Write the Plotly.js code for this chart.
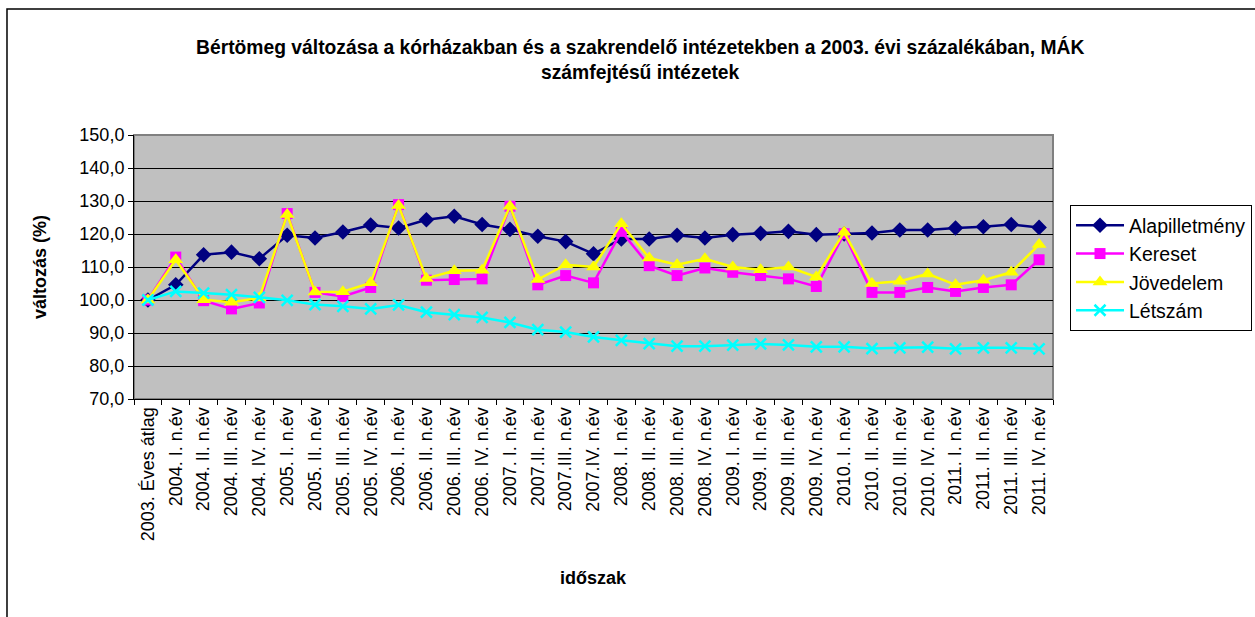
<!DOCTYPE html>
<html>
<head>
<meta charset="utf-8">
<script src="https://cdn.plot.ly/plotly-3.0.1.min.js"></script>
<style>html,body{margin:0;padding:0;background:#fff;}#chart{width:1255px;height:617px;}</style>
</head>
<body>
<div id="chart"></div>
<script>
const categories = ["2003. Éves átlag",
  "2004. I. n.év","2004. II. n.év","2004. III. n.év","2004. IV. n.év",
  "2005. I. n.év","2005. II. n.év","2005. III. n.év","2005. IV. n.év",
  "2006. I. n.év","2006. II. n.év","2006. III. n.év","2006. IV. n.év",
  "2007. I. n.év","2007.II. n.év","2007.III. n.év","2007.IV. n.év",
  "2008. I. n.év","2008. II. n.év","2008. III. n.év","2008. IV. n.év",
  "2009. I. n.év","2009. II. n.év","2009. III. n.év","2009. IV. n.év",
  "2010. I. n.év","2010. II. n.év","2010. III. n.év","2010. IV. n.év",
  "2011. I. n.év","2011. II. n.év","2011. III. n.év","2011. IV. n.év"];
const alapilletmeny = [100.0,104.6,113.7,114.5,112.5,119.6,118.8,120.6,122.7,121.8,124.3,125.4,122.9,121.4,119.3,117.7,114.0,118.5,118.5,119.6,118.8,119.8,120.2,120.8,119.8,120.0,120.3,121.2,121.2,121.8,122.2,122.9,122.0];
const kereset = [100.0,113.0,99.8,97.3,99.1,126.2,102.3,101.1,103.8,128.9,106.0,106.2,106.4,128.4,104.6,107.4,105.2,120.8,110.4,107.4,109.7,108.4,107.4,106.4,104.1,120.1,102.3,102.3,103.8,102.6,103.8,104.6,112.2];
const jovedelem = [100.0,112.2,100.1,99.3,100.6,125.9,102.4,102.5,105.2,128.6,106.5,108.9,109.0,128.4,106.2,110.7,110.0,123.1,112.7,110.7,112.5,110.0,109.2,110.0,107.0,120.5,105.0,105.7,107.9,104.6,106.0,108.4,116.8];
const letszam = [100.0,102.6,102.1,101.6,100.8,99.9,98.6,98.1,97.3,98.5,96.3,95.6,94.7,93.2,91.0,90.3,88.8,87.8,86.8,86.0,86.0,86.3,86.7,86.4,85.8,85.8,85.3,85.5,85.7,85.2,85.5,85.5,85.2];
const seriesNames = ["Alapilletmény","Kereset","Jövedelem","Létszám"];
const titleLines = ["Bértömeg változása a kórházakban és a szakrendelő intézetekben a 2003. évi százalékában, MÁK","számfejtésű intézetek"];

const FONT = "Arial, 'Liberation Sans', sans-serif";
const traces = [
  {x: categories, y: alapilletmeny, name: seriesNames[0], mode: "lines+markers",
   line: {color: "#000080", width: 2.5}, marker: {symbol: "diamond", size: 12, color: "#000080"}},
  {x: categories, y: kereset, name: seriesNames[1], mode: "lines+markers",
   line: {color: "#FF00FF", width: 2.5}, marker: {symbol: "square", size: 11, color: "#FF00FF"}},
  {x: categories, y: jovedelem, name: seriesNames[2], mode: "lines+markers",
   line: {color: "#FFFF00", width: 2.5}, marker: {symbol: "triangle-up", size: 13, color: "#FFFF00"}},
  {x: categories, y: letszam, name: seriesNames[3], mode: "lines+markers",
   line: {color: "#00FFFF", width: 2.5}, marker: {symbol: "x-thin", size: 11, color: "#00FFFF", line: {color: "#00FFFF", width: 2.5}}}
];

const layout = {
  width: 1255, height: 617,
  margin: {l: 134, r: 202, t: 135, b: 218, autoexpand: false},
  paper_bgcolor: "#ffffff",
  plot_bgcolor: "#C0C0C0",
  font: {family: FONT, size: 18, color: "#000"},
  separators: ", ",
  showlegend: true,
  legend: {xref: "container", yref: "container", x: 0.8526, xanchor: "left", y: 0.6677, yanchor: "top",
           bgcolor: "#fff", bordercolor: "#000", borderwidth: 1, itemwidth: 48,
           font: {family: FONT, size: 19.5}, tracegroupgap: 0},
  xaxis: {type: "category", range: [-0.5, 32.5], tickangle: -90, ticks: "outside", ticklen: 5, tickcolor: "#000",
          tickson: "boundaries", showgrid: false, showline: true, linecolor: "#000", linewidth: 1,
          tickfont: {family: FONT, size: 18}, automargin: false},
  yaxis: {range: [70, 150], dtick: 10, tickformat: ".1f", ticks: "outside", ticklen: 5, tickcolor: "#000",
          showgrid: true, gridcolor: "#000", gridwidth: 1, showline: true, linecolor: "#000", linewidth: 1,
          zeroline: false, tickfont: {family: FONT, size: 18}, automargin: false},
  shapes: [
    {type: "rect", xref: "paper", yref: "paper", x0: 0, x1: 1, y0: 0, y1: 1,
     line: {color: "#808080", width: 2}, fillcolor: "rgba(0,0,0,0)", layer: "below"},
    {type: "rect", xref: "paper", yref: "paper", x0: -0.1382, x1: 1.23, y0: -0.84, y1: 1.4773,
     line: {color: "#000", width: 1.5}, fillcolor: "rgba(0,0,0,0)"}
  ],
  annotations: [
    {text: "<b>" + titleLines[0] + "</b>", xref: "paper", yref: "paper", x: 0.5506, y: 1.333,
     xanchor: "center", yanchor: "middle", showarrow: false, font: {family: FONT, size: 19.3}},
    {text: "<b>" + titleLines[1] + "</b>", xref: "paper", yref: "paper", x: 0.5506, y: 1.2386,
     xanchor: "center", yanchor: "middle", showarrow: false, font: {family: FONT, size: 19.3}},
    {text: "<b>változás (%)</b>", xref: "paper", yref: "paper", x: -0.1023, y: 0.5, textangle: -90,
     xanchor: "center", yanchor: "middle", showarrow: false, font: {family: FONT, size: 18}},
    {text: "<b>időszak</b>", xref: "paper", yref: "paper", x: 0.5, y: -0.678,
     xanchor: "center", yanchor: "middle", showarrow: false, font: {family: FONT, size: 18}}
  ]
};
Plotly.newPlot("chart", traces, layout, {displayModeBar: false, staticPlot: true});
</script>
</body>
</html>
